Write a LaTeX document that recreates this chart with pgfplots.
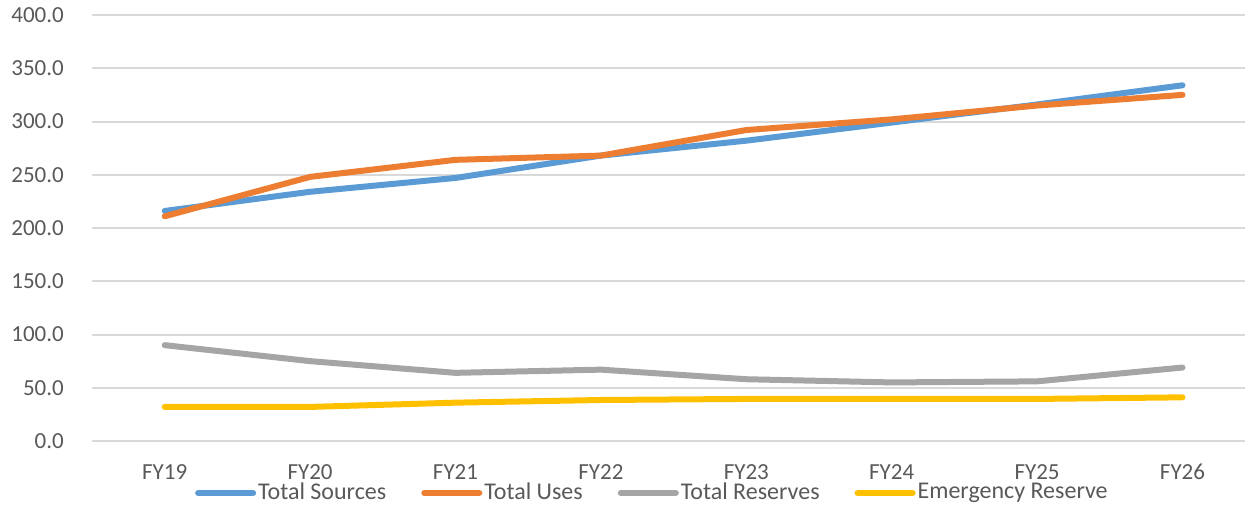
\documentclass[border=0pt]{standalone}
\usepackage{fontspec}
\setmainfont{Carlito}
\usepackage{pgfplots}
\pgfplotsset{compat=1.18}
\definecolor{cblue}{HTML}{5B9BD5}
\definecolor{corange}{HTML}{ED7D31}
\definecolor{cgray}{HTML}{A5A5A5}
\definecolor{cyellow}{HTML}{FFC000}
\definecolor{gridc}{HTML}{D9D9D9}
\definecolor{txt}{HTML}{595959}
\begin{document}
\fontsize{23}{27}\selectfont
\begin{tikzpicture}[x=1pt,y=1pt]
\useasboundingbox (0,0) rectangle (1245,507);
\begin{axis}[
  at={(92pt,66pt)}, anchor=south west,
  scale only axis, width=1153pt, height=426pt,
  xmin=-0.5, xmax=7.43, ymin=0, ymax=400,
  ytick={0,50,...,400}, xtick={0,...,7},
  xticklabels={FY19,FY20,FY21,FY22,FY23,FY24,FY25,FY26},
  axis line style={draw=none},
  tick style={draw=none},
  ymajorgrids, grid style={color=gridc, line width=2pt},
  clip=false,
  /pgf/number format/assume math mode=true,
  /pgf/number format/.cd, fixed, fixed zerofill, precision=1, /pgfplots/.cd,
  yticklabel style={anchor=east, inner sep=0pt, xshift=-28pt, text=txt, font=\fontsize{23}{27}\selectfont},
  xticklabel style={anchor=center, inner sep=0pt, yshift=-31pt, text=txt, font=\fontsize{23}{27}\selectfont},
  every axis plot/.append style={line width=6pt, line cap=round, line join=round, mark=none},
  legend columns=4,
  legend style={at={(axis description cs:0.486,-0.122)}, anchor=center, draw=none, fill=none,
    font=\fontsize{24}{28}\selectfont, text=txt, inner sep=0pt,
    /tikz/every even column/.append style={column sep=33pt}},
  legend image code/.code={\draw[#1, line width=6pt] (0pt,0pt) -- (55pt,0pt);},
]
\addplot[cblue] coordinates {(0,216) (1,234) (2,247) (3,268) (4,282) (5,299) (6,316) (7,334)};
\addplot[corange] coordinates {(0,211) (1,248) (2,264) (3,268) (4,292) (5,302) (6,315) (7,325)};
\addplot[cgray] coordinates {(0,90) (1,75) (2,64) (3,67) (4,58) (5,55) (6,56) (7,69)};
\addplot[cyellow] coordinates {(0,32) (1,32) (2,36) (3,38.5) (4,39.5) (5,39.5) (6,39.5) (7,41)};
\legend{Total Sources,Total Uses,Total Reserves,Emergency Reserve}
\end{axis}
\end{tikzpicture}
\end{document}
